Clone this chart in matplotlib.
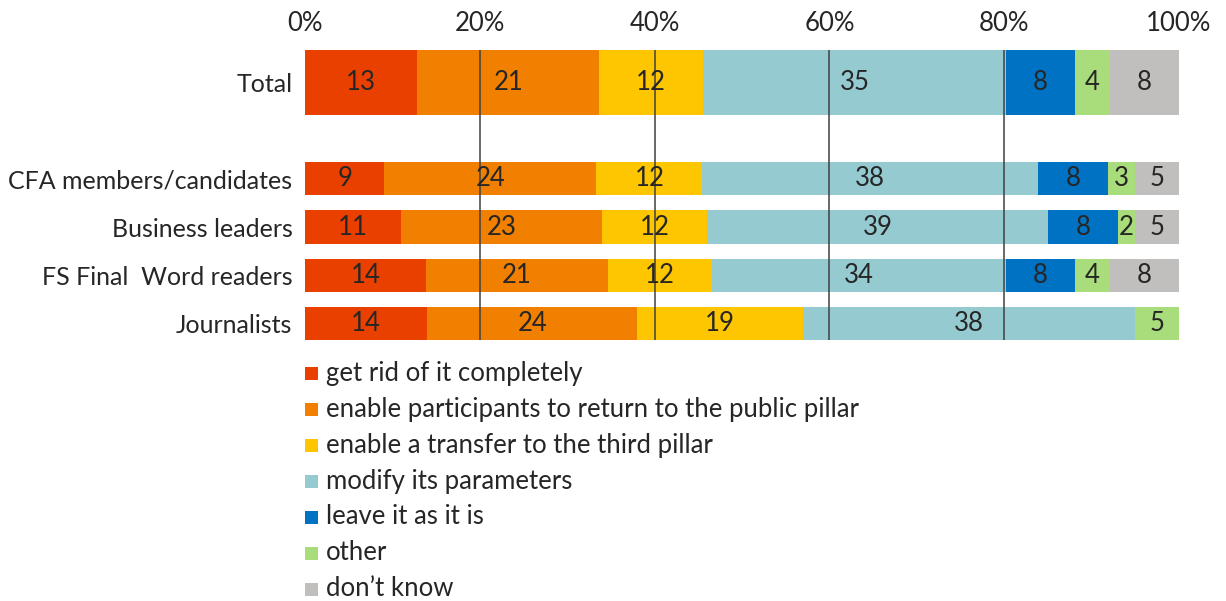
import matplotlib
matplotlib.use('Agg')
import matplotlib.pyplot as plt
import numpy as np
from matplotlib.patches import Rectangle

plt.rcParams['font.family'] = ['Lato', 'DejaVu Sans']

# 数据
groups = ['Total', '', 'CFA members/candidates', 'Business leaders',
          'FS Final  Word readers', 'Journalists']
answers = ['get rid of it completely',
           'enable participants to return to the public pillar',
           'enable a transfer to the third pillar',
           'modify its parameters',
           'leave it as it is',
           'other',
           'don\u2019t know']
total = [13, 21, 12, 35, 8, 4, 8]
cfa = [9, 24, 12, 38, 8, 3, 5]
business = [11, 23, 12, 39, 8, 2, 5]
fs_readers = [14, 21, 12, 34, 8, 4, 8]
journalists = [14, 24, 19, 38, 0, 5, 0]
xticks = [0, 20, 40, 60, 80, 100]

colors = ['#E94000', '#F18000', '#FDC600', '#95CAD0', '#0072C3', '#A9DC7A', '#C0BFBD']
txt_color = '#262626'
fs = 18.5

rows = [total, None, cfa, business, fs_readers, journalists]
heights = [1.35, 0, 0.69, 0.69, 0.69, 0.69]

fig = plt.figure(figsize=(12.26, 6.01), dpi=100)
W, H = 1226, 601
# 轴区域按像素定位
ax = fig.add_axes([305 / W, 1 - 340 / H, 874 / W, 290 / H])

for i, vals in enumerate(rows):
    if vals is None:
        continue
    v = np.array(vals, dtype=float)
    share = v / v.sum() * 100
    left = 0
    for j, s in enumerate(share):
        if s > 0:
            ax.barh(i, s, left=left, height=heights[i], color=colors[j], linewidth=0, zorder=1)
            ax.text(left + s / 2, i, f'{vals[j]}', ha='center', va='center',
                    fontsize=fs, color=txt_color, zorder=3)
        left += s

ax.vlines([20, 40, 60, 80], -0.675, 5.345, color='#404040', linewidth=1.1, zorder=2)

ax.set_xlim(0, 100)
ax.set_ylim(5.345, -0.675)
ax.set_yticks([0, 2, 3, 4, 5])
ax.set_yticklabels([groups[k] for k in [0, 2, 3, 4, 5]], fontsize=18, color=txt_color)
ax.xaxis.tick_top()
ax.set_xticks(xticks)
ax.set_xticklabels([f'{t}%' for t in xticks], fontsize=fs, color=txt_color)
ax.tick_params(axis='both', length=0)
ax.tick_params(axis='y', pad=9)
ax.tick_params(axis='x', pad=10)
for sp in ax.spines.values():
    sp.set_visible(False)

# 图例（手动排列）
for k, (lab, col) in enumerate(zip(answers, colors)):
    yc = 373 + k * 36
    fig.patches.append(Rectangle((305 / W, 1 - (yc + 7) / H), 13 / W, 13 / H,
                                 transform=fig.transFigure, facecolor=col,
                                 edgecolor='none', figure=fig))
    fig.text(326 / W, 1 - yc / H, lab, ha='left', va='center',
             fontsize=fs, color=txt_color)

fig.savefig('out.png', dpi=100)
